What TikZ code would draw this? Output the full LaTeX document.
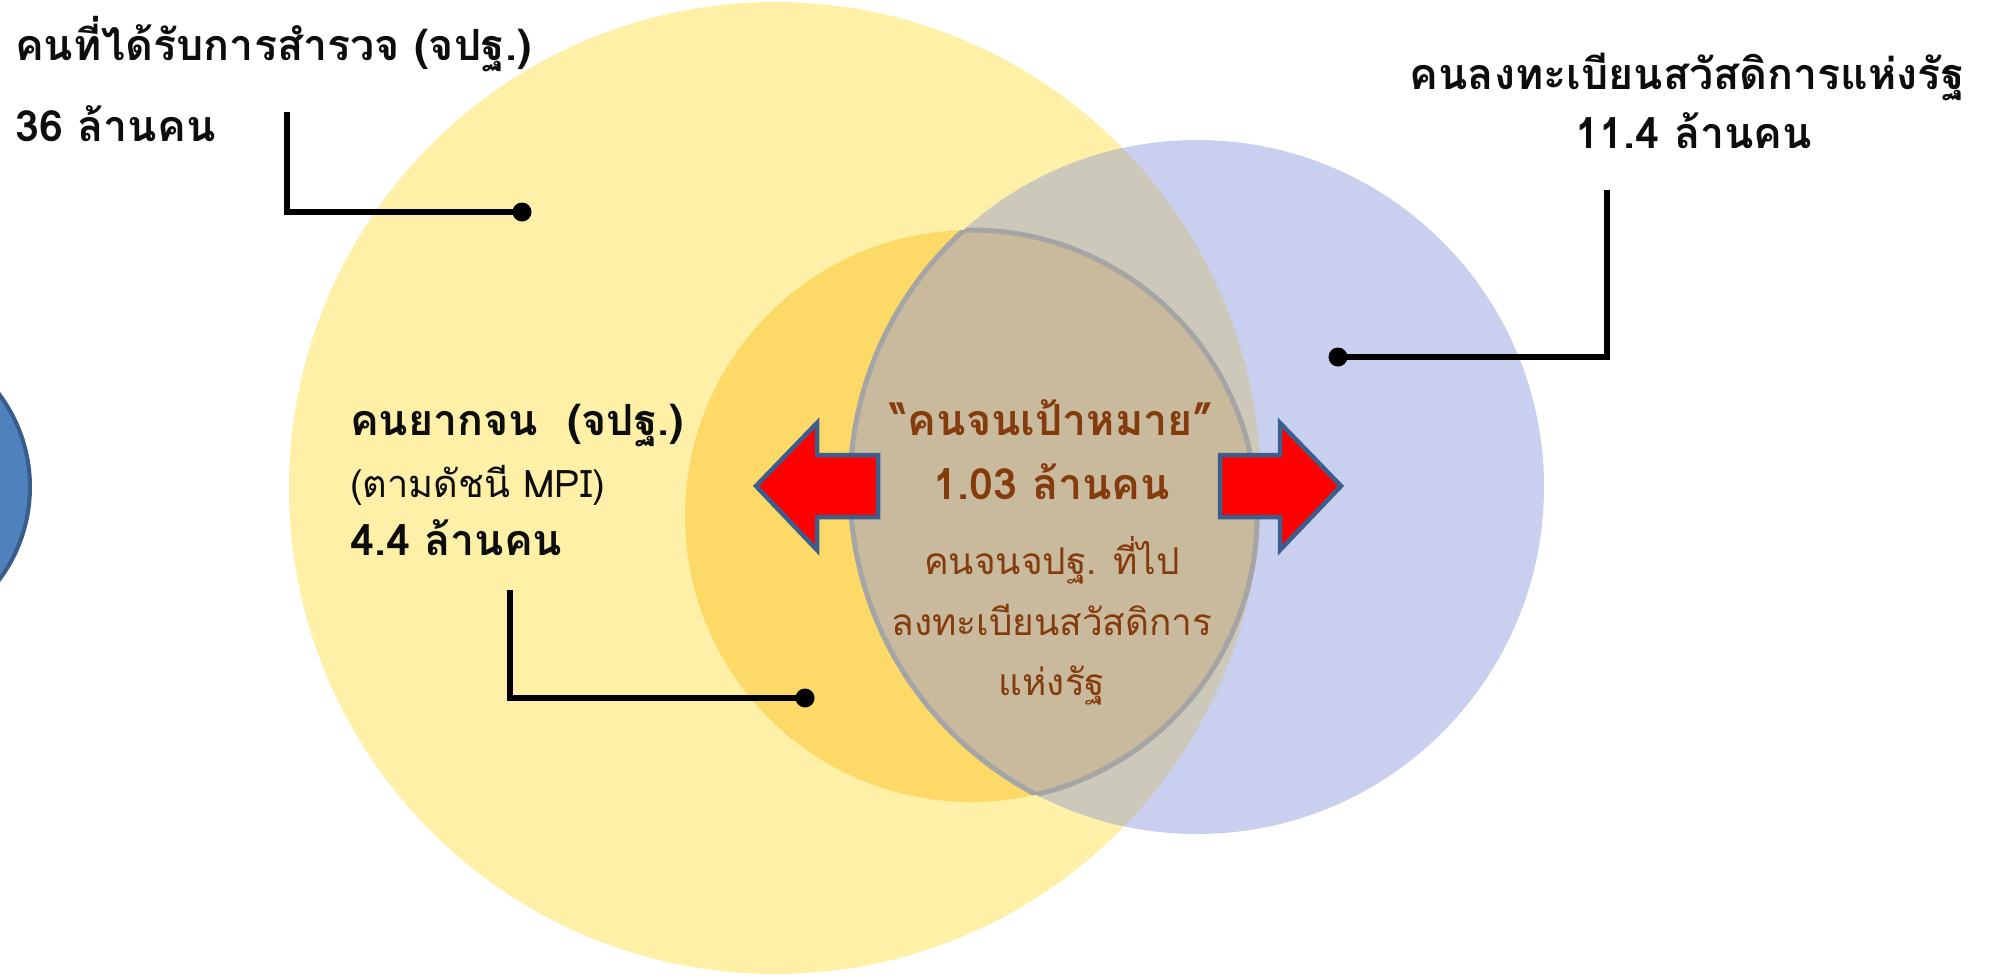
\documentclass[tikz,border=0pt]{standalone}
\usepackage{fontspec}
\setmainfont{Loma}[Script=Thai]
\definecolor{ylw}{HTML}{FEF0A7}
\definecolor{org}{HTML}{FDD968}
\definecolor{blu}{HTML}{C9CFEE}
\definecolor{gry}{HTML}{CCC9BB}
\definecolor{lensfill}{HTML}{C9BA9E}
\definecolor{lensline}{HTML}{A5A5A5}
\definecolor{brn}{HTML}{843C0C}
\definecolor{arrline}{HTML}{3B5E8C}
\definecolor{smallblue}{HTML}{4F81BD}
\definecolor{smallblueline}{HTML}{385D8A}
\definecolor{txt}{HTML}{0D0D0D}
\tikzset{
  lblbig/.style={font=\fontsize{43}{50}\selectfont\bfseries, text=txt, inner sep=0pt},
  lblreg/.style={font=\fontsize{38}{44}\selectfont, text=txt, inner sep=0pt},
  brnbig/.style={font=\fontsize{43}{50}\selectfont\bfseries, text=brn, inner sep=0pt},
  brnreg/.style={font=\fontsize{37}{44}\selectfont, text=brn, inner sep=0pt},
  dotnode/.style={circle, fill=black, minimum size=19pt, inner sep=0pt},
  leader/.style={draw=black, line width=5.5pt, line join=miter},
  redarrow/.style={fill=red, draw=arrline, line width=4.5pt, line join=miter},
}
\begin{document}
\begin{tikzpicture}[x=1pt,y=-1pt]
\useasboundingbox (0,0) rectangle (1990,975);
% small blue circle at left edge
\draw[fill=smallblue, draw=smallblueline, line width=4pt] (-125,487) circle[radius=155pt];
% big yellow circle
\fill[ylw] (775,488) circle[radius=486pt];
% blue circle
\fill[blu] (1197,487) circle[radius=347pt];
\begin{scope}
  \clip (775,488) circle[radius=486pt];
  \fill[gry] (1197,487) circle[radius=347pt];
\end{scope}
% orange circle
\fill[org] (971,516) circle[radius=286pt];
% lens
\begin{scope}
  \clip (971,516) circle[radius=286pt];
  \fill[lensfill] (1197,487) circle[radius=347pt];
  \draw[lensline, line width=5pt] (1197,487) circle[radius=347pt];
\end{scope}
\begin{scope}
  \clip (1197,487) circle[radius=347pt];
  \draw[lensline, line width=5pt] (971,516) circle[radius=286pt];
\end{scope}
% arrows
\draw[redarrow] (756,486) -- (817,423) -- (817,455) -- (878,455) -- (878,517) -- (817,517) -- (817,550) -- cycle;
\draw[redarrow] (1341,486) -- (1280,423) -- (1280,455) -- (1220,455) -- (1220,517) -- (1280,517) -- (1280,550) -- cycle;
% labels
\node[lblbig, anchor=base west] (t1) at (15,60) {คนที่ได้รับการสำรวจ (จปฐ.)};
\node[lblbig, anchor=base west] (t2) at (15,141) {36 ล้านคน};
\node[lblbig, anchor=base east] (t3) at (1965,89) {คนลงทะเบียนสวัสดิการแห่งรัฐ};
\node[lblbig, anchor=base] (t4) at (1694,148) {11.4 ล้านคน};
\node[lblbig, anchor=base west] (t5) at (350,435) {คนยากจน~~(จปฐ.)};
\node[lblreg, anchor=base west] (t6) at (350,497) {(ตามดัชนี MPI)};
\node[lblbig, anchor=base west] (t7) at (350,555) {4.4 ล้านคน};
\node[brnbig, anchor=base] (m1) at (1052,435) {“คนจนเป้าหมาย”};
\node[brnbig, anchor=base] (m2) at (1052,499) {1.03 ล้านคน};
\node[brnreg, anchor=base] (m3) at (1052,574) {คนจนจปฐ. ที่ไป};
\node[brnreg, anchor=base] (m4) at (1052,635) {ลงทะเบียนสวัสดิการ};
\node[brnreg, anchor=base] (m5) at (1052,695) {แห่งรัฐ};
% leaders
\coordinate (c1) at (287,112);
\node[dotnode] (d1) at (522,212) {};
\draw[leader] (c1) |- (d1.center);
\coordinate (c2) at (1607,190);
\node[dotnode] (d2) at (1338,357) {};
\draw[leader] (c2) |- (d2.center);
\coordinate (c3) at (510,590);
\node[dotnode] (d3) at (805,698) {};
\draw[leader] (c3) |- (d3.center);
\end{tikzpicture}
\end{document}
